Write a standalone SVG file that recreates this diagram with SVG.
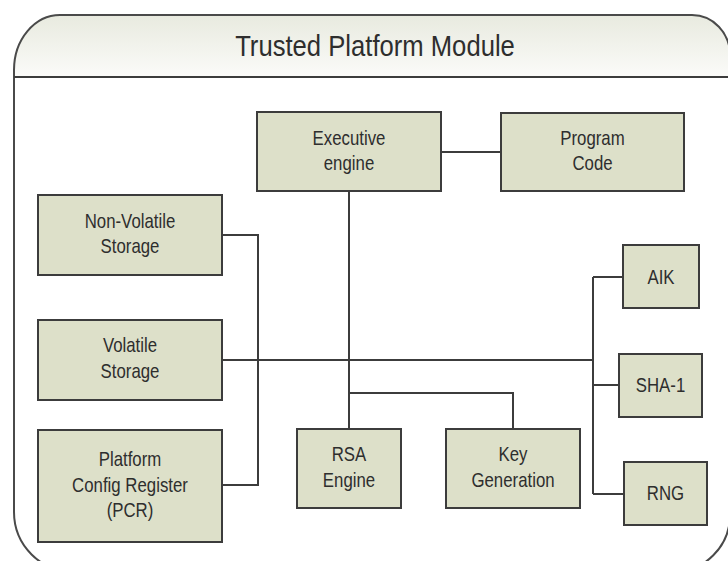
<svg xmlns="http://www.w3.org/2000/svg" width="728" height="561" viewBox="0 0 728 561">
<defs>
<linearGradient id="hdr" x1="0" y1="0" x2="0" y2="1">
<stop offset="0" stop-color="#e8eadf"/>
<stop offset="1" stop-color="#fbfbf9"/>
</linearGradient>
<style>
.box{fill:#dde0c9;stroke:#3c3c3c;stroke-width:2}
.t{font-family:"Liberation Sans",Arial,sans-serif;font-size:20.5px;fill:#2e2e2e;text-anchor:middle}
.title{font-family:"Liberation Sans",Arial,sans-serif;font-size:30px;fill:#2e2e2e;text-anchor:middle}
.c{fill:none;stroke:#3c3c3c;stroke-width:2}
</style>
</defs>
<rect width="728" height="561" fill="#ffffff"/>
<g id="frame">
<path d="M14 70 A46 55 0 0 1 60 15 L692 15 A38 40 0 0 1 730 55 L730 77 L14 77 Z" fill="url(#hdr)"/>
<path d="M14 70 A46 55 0 0 1 60 15 L692 15 A38 40 0 0 1 730 55 L730 515 A57 57 0 0 1 673 572 L74 572 A60 60 0 0 1 14 512 Z" fill="none" stroke="#4a4a4a" stroke-width="2"/>
<line x1="14" y1="77" x2="730" y2="77" stroke="#3c3c3c" stroke-width="2"/>
<text class="title" transform="translate(375,56) scale(0.855,1)">Trusted Platform Module</text>
</g>
<g id="connectors">
<path class="c" d="M441 152 H501"/>
<path class="c" d="M349 191 V429"/>
<path class="c" d="M349 393 H513 V429"/>
<path class="c" d="M222 235 H258 V485 H222"/>
<path class="c" d="M222 360 H593"/>
<path class="c" d="M593 277 V494"/>
<path class="c" d="M593 277 H623"/>
<path class="c" d="M593 385 H619"/>
<path class="c" d="M593 494 H624"/>
</g>
<g id="executive-engine">
<rect class="box" x="257" y="112" width="184" height="79"/>
<text class="t" transform="translate(349,145) scale(0.82,1)">Executive</text>
<text class="t" transform="translate(349,170) scale(0.82,1)">engine</text>
</g>
<g id="program-code">
<rect class="box" x="501" y="113" width="183" height="78"/>
<text class="t" transform="translate(592.5,145) scale(0.82,1)">Program</text>
<text class="t" transform="translate(592.5,170) scale(0.82,1)">Code</text>
</g>
<g id="non-volatile-storage">
<rect class="box" x="38" y="195" width="184" height="80"/>
<text class="t" transform="translate(130,228) scale(0.82,1)">Non-Volatile</text>
<text class="t" transform="translate(130,253) scale(0.82,1)">Storage</text>
</g>
<g id="volatile-storage">
<rect class="box" x="38" y="320" width="184" height="80"/>
<text class="t" transform="translate(130,352) scale(0.82,1)">Volatile</text>
<text class="t" transform="translate(130,378) scale(0.82,1)">Storage</text>
</g>
<g id="pcr">
<rect class="box" x="38" y="430" width="184" height="112"/>
<text class="t" transform="translate(130,466) scale(0.82,1)">Platform</text>
<text class="t" transform="translate(130,492) scale(0.82,1)">Config Register</text>
<text class="t" transform="translate(130,517) scale(0.82,1)">(PCR)</text>
</g>
<g id="rsa-engine">
<rect class="box" x="297" y="429" width="104" height="79"/>
<text class="t" transform="translate(349,461) scale(0.82,1)">RSA</text>
<text class="t" transform="translate(349,487) scale(0.82,1)">Engine</text>
</g>
<g id="key-generation">
<rect class="box" x="446" y="429" width="134" height="79"/>
<text class="t" transform="translate(513,461) scale(0.82,1)">Key</text>
<text class="t" transform="translate(513,487) scale(0.82,1)">Generation</text>
</g>
<g id="aik">
<rect class="box" x="623" y="245" width="76" height="63"/>
<text class="t" transform="translate(661,284) scale(0.82,1)">AIK</text>
</g>
<g id="sha-1">
<rect class="box" x="619" y="354" width="83" height="63"/>
<text class="t" transform="translate(660.5,392) scale(0.82,1)">SHA-1</text>
</g>
<g id="rng">
<rect class="box" x="624" y="462" width="83" height="63"/>
<text class="t" transform="translate(665.5,500) scale(0.82,1)">RNG</text>
</g>
</svg>
